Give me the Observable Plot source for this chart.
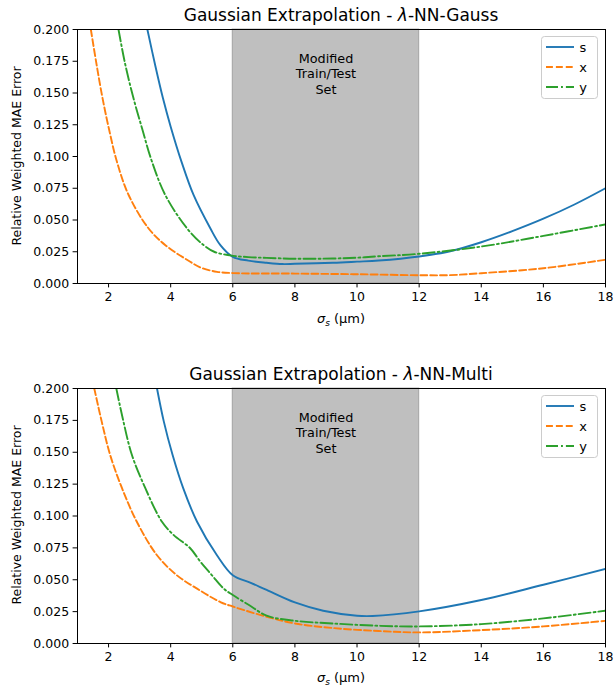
<!DOCTYPE html>
<html><head><meta charset="utf-8">
<script src="https://cdn.jsdelivr.net/npm/d3@7"></script>
<script src="https://cdn.jsdelivr.net/npm/@observablehq/plot@0.6"></script>
<style>
body{margin:0;background:#fff;font-family:"DejaVu Sans",sans-serif;}
#root{width:614px;}
#root svg{display:block;}
</style>
</head><body><div id="root"></div>
<script>
// ---- data ----
const xTicks = [2, 4, 6, 8, 10, 12, 14, 16, 18];
const yTicks = [0, 0.025, 0.05, 0.075, 0.1, 0.125, 0.15, 0.175, 0.2];
const shadeStart = 6, shadeEnd = 12;
const shadeLabel = "Modified\nTrain/Test\nSet";
const seriesNames = ["s", "x", "y"];
const seriesColors = ["#1f77b4", "#ff7f0e", "#2ca02c"];
const seriesDash = [null, "6.9,3", "12,3,1.9,3"];

// Panel 1: λ-NN-Gauss
const gaussS_x = [3.25, 3.5, 3.75, 4.0, 4.35, 4.74, 5.28, 5.6, 6.0, 6.5, 7.09, 7.6, 8.0, 9.23, 10.0, 10.7, 12.0, 13.0, 14.0, 15.0, 16.0, 17.0, 18.0];
const gaussS_y = [0.200, 0.172, 0.146, 0.1235, 0.0958, 0.0695, 0.0433, 0.0302, 0.0210, 0.0180, 0.0163, 0.0153, 0.0155, 0.0163, 0.0172, 0.0181, 0.0213, 0.0254, 0.0325, 0.0412, 0.0510, 0.0622, 0.0750];
const gaussX_x = [1.43, 1.60, 1.79, 2.01, 2.27, 2.65, 3.29, 3.83, 4.63, 5.0, 5.49, 6.0, 8.0, 10.0, 12.0, 13.0, 14.0, 16.0, 18.0];
const gaussX_y = [0.200, 0.1745, 0.148, 0.122, 0.0958, 0.0695, 0.0433, 0.0302, 0.0171, 0.0122, 0.0092, 0.0082, 0.0078, 0.0073, 0.0065, 0.0066, 0.0081, 0.0120, 0.0187];
const gaussY_x = [2.32, 2.52, 2.78, 3.08, 3.40, 3.83, 4.53, 5.06, 5.4, 5.92, 6.5, 7.09, 8.0, 9.23, 10.0, 10.7, 12.0, 14.0, 16.0, 18.0];
const gaussY_y = [0.200, 0.1745, 0.148, 0.122, 0.0958, 0.0695, 0.0433, 0.0302, 0.0250, 0.0221, 0.0208, 0.0202, 0.0195, 0.0197, 0.0203, 0.0215, 0.0234, 0.0291, 0.0375, 0.0465];

// Panel 2: λ-NN-Multi
const multiS_x = [3.56, 3.78, 4.06, 4.40, 4.85, 5.49, 6.0, 6.56, 7.09, 8.0, 8.91, 10.0, 10.5, 12.0, 14.0, 16.0, 18.0];
const multiS_y = [0.200, 0.174, 0.148, 0.122, 0.0955, 0.0692, 0.0535, 0.0478, 0.0420, 0.0322, 0.0257, 0.0218, 0.0216, 0.0252, 0.0341, 0.0461, 0.0585];
const multiX_x = [1.54, 1.78, 2.05, 2.43, 2.91, 3.56, 4.20, 4.85, 5.6, 6.0, 7.09, 8.0, 9.23, 10.7, 12.0, 14.0, 16.0, 18.0];
const multiX_y = [0.200, 0.174, 0.148, 0.122, 0.0955, 0.0692, 0.0535, 0.0430, 0.0325, 0.0290, 0.0210, 0.0157, 0.0121, 0.0098, 0.0087, 0.0105, 0.0134, 0.0178];
const multiY_x = [2.25, 2.48, 2.75, 3.18, 3.72, 4.10, 4.63, 4.96, 5.33, 5.71, 6.0, 6.56, 7.09, 8.0, 9.23, 10.7, 12.0, 14.0, 16.0, 18.0];
const multiY_y = [0.200, 0.174, 0.148, 0.122, 0.0955, 0.085, 0.0747, 0.064, 0.0535, 0.0430, 0.0380, 0.0296, 0.0218, 0.0178, 0.0157, 0.0139, 0.0134, 0.0152, 0.0197, 0.0257];

const panels = [
  {title: ["Gaussian Extrapolation - ", "λ", "-NN-Gauss"], xs: [gaussS_x, gaussX_x, gaussY_x], ys: [gaussS_y, gaussX_y, gaussY_y], height: 359, mb: 76},
  {title: ["Gaussian Extrapolation - ", "λ", "-NN-Multi"], xs: [multiS_x, multiX_x, multiY_x], ys: [multiS_y, multiX_y, multiY_y], height: 326, mb: 42}
];

const FONT = "DejaVu Sans";
const root = document.getElementById("root");

for (const p of panels) {
  const lineMarks = seriesNames.map((name, i) => {
    const rows = p.xs[i].map((x, j) => ({x, y: p.ys[i][j]}));
    return Plot.line(rows, {x: "x", y: "y", stroke: seriesColors[i], strokeWidth: 1.9,
      strokeDasharray: seriesDash[i] || undefined, curve: "catmull-rom", clip: true});
  });
  const chart = Plot.plot({
    width: 614, height: p.height,
    marginLeft: 77, marginRight: 9, marginTop: 29, marginBottom: p.mb,
    style: {fontFamily: FONT, fontSize: "12.5px", color: "black", background: "white", overflow: "visible"},
    x: {domain: [1, 18], ticks: xTicks, tickSize: 4.4, tickPadding: 4, label: null, tickFormat: d => String(d)},
    y: {domain: [0, 0.2], ticks: yTicks, tickSize: 4.4, tickPadding: 4, label: null, tickFormat: d3.format(".3f")},
    marks: [
      Plot.rect([{x1: shadeStart, x2: shadeEnd}], {x1: "x1", x2: "x2", fill: "#808080", fillOpacity: 0.5,
        stroke: "#808080", strokeOpacity: 0.5, strokeWidth: 1.2}),
      Plot.text([{x: (shadeStart + shadeEnd) / 2, y: 0.2, t: shadeLabel}], {x: "x", y: "y", text: "t",
        dy: 44, lineHeight: 1.2, fontSize: 12.8, fill: "black"}),
      ...lineMarks,
      Plot.frame({stroke: "black", strokeWidth: 1})
    ]
  });
  const svg = d3.select(chart);
  // title
  const t = svg.append("text").attr("x", 341).attr("y", 21).attr("text-anchor", "middle")
    .attr("font-size", "17px").attr("font-family", FONT).attr("fill", "black");
  t.append("tspan").text(p.title[0]);
  t.append("tspan").attr("font-style", "italic").text(p.title[1]);
  t.append("tspan").text(p.title[2]);
  // y label
  svg.append("text").attr("transform", "translate(21,156) rotate(-90)").attr("text-anchor", "middle")
    .attr("font-size", "12.5px").attr("font-family", FONT).attr("fill", "black")
    .text("Relative Weighted MAE Error");
  // x label
  const xl = svg.append("text").attr("x", 341).attr("y", 323).attr("text-anchor", "middle")
    .attr("font-size", "13px").attr("font-family", FONT).attr("fill", "black");
  xl.append("tspan").attr("font-style", "italic").text("σ");
  xl.append("tspan").attr("font-style", "italic").attr("font-size", "9px").attr("dy", 2.5).text("s");
  xl.append("tspan").attr("dy", -2.5).text(" (μm)");
  // legend
  const lg = svg.append("g");
  lg.append("rect").attr("x", 541.5).attr("y", 36.5).attr("width", 56).attr("height", 62).attr("rx", 3)
    .attr("fill", "white").attr("fill-opacity", 0.8).attr("stroke", "#cccccc").attr("stroke-width", 1);
  seriesNames.forEach((name, i) => {
    const cy = 47 + i * 20;
    const ln = lg.append("line").attr("x1", 546).attr("x2", 574).attr("y1", cy).attr("y2", cy)
      .attr("stroke", seriesColors[i]).attr("stroke-width", 1.9);
    if (seriesDash[i]) ln.attr("stroke-dasharray", seriesDash[i]);
    lg.append("text").attr("x", 583).attr("y", cy + 4.5).attr("font-size", "13px").attr("font-family", FONT)
      .attr("fill", "black").text(name);
  });
  root.appendChild(chart);
}
</script>
</body></html>
